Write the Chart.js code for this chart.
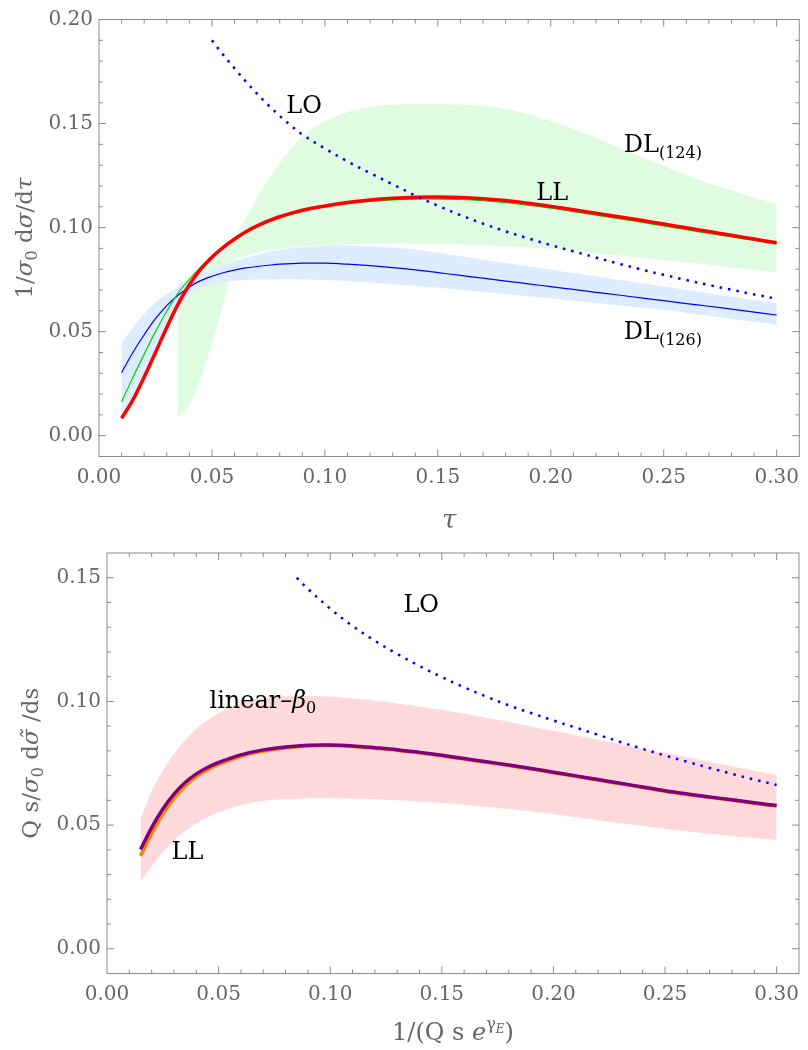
<!DOCTYPE html>
<html>
<head>
<meta charset="utf-8">
<script src="https://cdn.jsdelivr.net/npm/chart.js@4.4.1/dist/chart.umd.min.js"></script>
<style>
  html, body { margin: 0; padding: 0; background: #fff; }
  #wrap { position: relative; width: 808px; height: 1050px; }
  canvas { position: absolute; left: 0; }
  #top { top: 0; }
  #bottom { top: 535px; }
</style>
</head>
<body>
<div id="wrap">
  <canvas id="top" width="808" height="535"></canvas>
  <canvas id="bottom" width="808" height="515"></canvas>
</div>
<script>
// ---------- top panel: 1/sigma0 dsigma/dtau ----------
const tauGrid = [0.01, 0.015, 0.02, 0.025, 0.03, 0.035, 0.04, 0.045, 0.05, 0.055, 0.06, 0.065, 0.07, 0.075, 0.08,
    0.09, 0.10, 0.11, 0.12, 0.13, 0.14, 0.15, 0.16, 0.17, 0.18, 0.19, 0.20, 0.21, 0.22, 0.23, 0.24, 0.25, 0.26, 0.27, 0.28, 0.29, 0.30];
const llTau = [0.0084, 0.0172, 0.0282, 0.040, 0.052, 0.0632, 0.0725, 0.080, 0.0858, 0.0905, 0.0945, 0.098, 0.1008, 0.1032, 0.1052,
    0.1083, 0.1104, 0.1121, 0.1133, 0.1141, 0.1146, 0.1147, 0.1145, 0.1139, 0.113, 0.1117, 0.1102, 0.1086, 0.1069, 0.1052, 0.1035, 0.1017, 0.0999, 0.0981, 0.0963, 0.0945, 0.0927];
const dl124Tau = [0.0163, 0.028, 0.0392, 0.050, 0.0598, 0.0685, 0.0752, 0.081, 0.0862, 0.0905, 0.0942, 0.0976, 0.1004, 0.1028, 0.1048,
    0.1078, 0.1099, 0.1115, 0.1126, 0.1133, 0.1137, 0.1137, 0.1135, 0.1129, 0.112, 0.1107, 0.1093, 0.1077, 0.106, 0.1043, 0.1026, 0.1008, 0.099, 0.0972, 0.0955, 0.0938, 0.092];
const dl126Tau = [0.0303, 0.040, 0.0485, 0.0562, 0.0625, 0.0675, 0.0715, 0.0745, 0.0766, 0.0783, 0.0796, 0.0806, 0.0813, 0.0819, 0.0824,
    0.0829, 0.0829, 0.0824, 0.0817, 0.0808, 0.0797, 0.0784, 0.077, 0.0757, 0.0743, 0.073, 0.0716, 0.0703, 0.0689, 0.0676, 0.0662, 0.0649, 0.0635, 0.0622, 0.0608, 0.0594, 0.058];
const dl126Up = [0.0444, 0.052, 0.0585, 0.064, 0.068, 0.0715, 0.075, 0.0775, 0.0797, 0.0818, 0.0838, 0.0855, 0.087, 0.0882, 0.0893,
    0.0905, 0.0913, 0.0915, 0.091, 0.0903, 0.0895, 0.0879, 0.0863, 0.0846, 0.083, 0.0814, 0.0798, 0.0782, 0.0766, 0.0749, 0.0733, 0.0717, 0.0701, 0.0685, 0.0668, 0.0652, 0.0636];
const dl126Lo = [0.011, 0.019, 0.029, 0.040, 0.051, 0.061, 0.0678, 0.0708, 0.0726, 0.0737, 0.0744, 0.0748, 0.075, 0.0751, 0.0752,
    0.0751, 0.0748, 0.0743, 0.0736, 0.0728, 0.072, 0.0711, 0.0701, 0.069, 0.068, 0.067, 0.066, 0.0649, 0.0638, 0.0627, 0.0616, 0.0605, 0.059, 0.0576, 0.0561, 0.0547, 0.0532];

const tauBand124 = [0.035, 0.04, 0.045, 0.05, 0.055, 0.06, 0.065, 0.07, 0.075, 0.08, 0.085, 0.09,
    0.10, 0.11, 0.12, 0.13, 0.14, 0.15, 0.16, 0.17, 0.18, 0.19, 0.20, 0.21, 0.22, 0.23, 0.24, 0.25, 0.26, 0.27, 0.28, 0.29, 0.30];
const dl124Up = [0.0724, 0.0752, 0.0785, 0.083, 0.0885, 0.0955, 0.1045, 0.1142, 0.1232, 0.131, 0.1378, 0.1437,
    0.151, 0.1555, 0.158, 0.159, 0.1594, 0.1594, 0.1591, 0.1584, 0.1569, 0.1545, 0.1513, 0.1474, 0.1431, 0.1386, 0.1340, 0.1296, 0.1253, 0.1213, 0.1178, 0.1145, 0.1113];
const dl124Lo = [0.0085, 0.015, 0.028, 0.044, 0.063, 0.0840, 0.0866, 0.088, 0.0891, 0.0898, 0.0904, 0.0908,
    0.0915, 0.092, 0.0923, 0.0924, 0.0924, 0.0922, 0.0919, 0.0915, 0.091, 0.0904, 0.0897, 0.0888, 0.0877, 0.0866, 0.0855, 0.0844, 0.0833, 0.0821, 0.0809, 0.0796, 0.0783];

const tauLO = [0.05, 0.055, 0.06, 0.065, 0.07, 0.075, 0.08, 0.085, 0.09,
    0.10, 0.11, 0.12, 0.13, 0.14, 0.15, 0.16, 0.17, 0.18, 0.19, 0.20, 0.21, 0.22, 0.23, 0.24, 0.25, 0.26, 0.27, 0.28, 0.29, 0.30];
const loTau = [0.19, 0.183, 0.1765, 0.1702, 0.1643, 0.1588, 0.1537, 0.149, 0.1447,
    0.138, 0.1318, 0.1262, 0.1208, 0.1154, 0.1105, 0.106, 0.1019, 0.0982, 0.0948, 0.0916, 0.0886, 0.0856, 0.0827, 0.0799, 0.0773, 0.0748, 0.0724, 0.0701, 0.0679, 0.0658];

const tauTicks = [0, 0.05, 0.10, 0.15, 0.20, 0.25, 0.30];
const topYTicks = [0, 0.05, 0.10, 0.15, 0.20];

// ---------- bottom panel: Q s/sigma0 dsigma~/ds ----------
const sGrid = [0.015, 0.02, 0.025, 0.03, 0.035, 0.04, 0.045, 0.05,
    0.06, 0.07, 0.08, 0.09, 0.10, 0.11, 0.12, 0.13, 0.14, 0.15, 0.16, 0.17, 0.18, 0.19, 0.20, 0.21, 0.22, 0.23, 0.24, 0.25, 0.26, 0.27, 0.28, 0.29, 0.30];
const linS = [0.0401, 0.049, 0.0565, 0.0625, 0.0672, 0.0707, 0.0733, 0.0753,
    0.0784, 0.0804, 0.0816, 0.0823, 0.0824, 0.082, 0.0813, 0.0805, 0.0794, 0.0782, 0.0769, 0.0756, 0.0743, 0.0729, 0.0714, 0.0699, 0.0684, 0.0669, 0.0654, 0.0639, 0.0626, 0.0614, 0.0602, 0.059, 0.0579];
const llS = [0.0375, 0.0465, 0.0545, 0.0608, 0.0658, 0.0696, 0.0724, 0.0745,
    0.0778, 0.0799, 0.0812, 0.082, 0.0822, 0.0818, 0.0811, 0.0803, 0.0792, 0.078, 0.0767, 0.0754, 0.0741, 0.0727, 0.0712, 0.0697, 0.0682, 0.0667, 0.0652, 0.0637, 0.0624, 0.0612, 0.06, 0.0588, 0.0577];
const linUp = [0.0526, 0.0635, 0.072, 0.0787, 0.0843, 0.0888, 0.0923, 0.0953,
    0.0995, 0.1014, 0.1021, 0.1022, 0.1019, 0.1012, 0.1003, 0.0992, 0.0979, 0.0965, 0.095, 0.0934, 0.0917, 0.0899, 0.0881, 0.0863, 0.0845, 0.0827, 0.0809, 0.0792, 0.0774, 0.0756, 0.0738, 0.072, 0.0703];
const linLo = [0.027, 0.0335, 0.039, 0.0438, 0.0475, 0.0506, 0.0532, 0.0552,
    0.058, 0.0597, 0.0605, 0.0609, 0.0609, 0.0607, 0.0604, 0.06, 0.0595, 0.0589, 0.0582, 0.0574, 0.0565, 0.0555, 0.0544, 0.0532, 0.052, 0.0508, 0.0496, 0.0485, 0.0474, 0.0465, 0.0456, 0.0448, 0.044];

const sLO = [0.085, 0.09, 0.10, 0.11, 0.12, 0.13, 0.14, 0.15, 0.16, 0.17, 0.18, 0.19, 0.20, 0.21, 0.22, 0.23, 0.24, 0.25, 0.26, 0.27, 0.28, 0.29, 0.30];
const loS = [0.15, 0.1455, 0.1375, 0.1305, 0.1245, 0.1192, 0.1143, 0.1098, 0.1057, 0.1019, 0.0984, 0.0953, 0.0923, 0.0894, 0.0865, 0.0836, 0.0808, 0.0781, 0.0756, 0.0731, 0.0707, 0.0684, 0.0662];

const sTicks = [0, 0.05, 0.10, 0.15, 0.20, 0.25, 0.30];
const botYTicks = [0, 0.05, 0.10, 0.15];

// ---------- styling ----------
const SERIF = "'DejaVu Serif', serif";
const TEXT_GRAY = '#666666';
const FRAME_GRAY = '#8c8c8c';
const fnt = (size, style) => (style ? style + ' ' : '') + size + 'px ' + SERIF;

function curve(xs, ys, color, width, order, extra) {
    return Object.assign({
        data: xs.map((x, i) => ({ x: x, y: ys[i] })),
        borderColor: color,
        borderWidth: width,
        pointRadius: 0,
        tension: 0.35,
        fill: false,
        order: order
    }, extra || {});
}

// upper edge fills down to the lower edge (next dataset)
function band(xs, up, lo, color, order) {
    return [
        curve(xs, up, 'rgba(0,0,0,0)', 0, order, { fill: '+1', backgroundColor: color }),
        curve(xs, lo, 'rgba(0,0,0,0)', 0, order + 1)
    ];
}

// draws a row of text pieces, each with its own font and vertical shift
function drawParts(ctx, parts, x, y, align) {
    let w = 0;
    parts.forEach(p => { ctx.font = p.f; w += ctx.measureText(p.t).width; });
    let cx = align === 'center' ? x - w / 2 : x;
    parts.forEach(p => {
        ctx.font = p.f;
        const pw = ctx.measureText(p.t).width;
        ctx.fillText(p.t, cx, y + (p.dy || 0));
        if (p.tilde) {
            ctx.textAlign = 'center';
            ctx.fillText('\u02DC', cx + pw / 2 + 2, y + (p.dy || 0));
            ctx.textAlign = 'left';
        }
        cx += pw;
    });
}

// Mathematica-like frame with inward ticks on all four sides
const framePlugin = {
    id: 'mmaFrame',
    afterDatasetsDraw(chart) {
        const { ctx, chartArea: a } = chart;
        const sx = chart.scales.x, sy = chart.scales.y;
        ctx.save();
        ctx.strokeStyle = FRAME_GRAY;
        ctx.lineWidth = 1;
        ctx.strokeRect(a.left, a.top, a.right - a.left, a.bottom - a.top);
        ctx.beginPath();
        for (let k = Math.ceil(sx.min * 100 - 1e-6); k <= Math.floor(sx.max * 100 + 1e-6); k++) {
            const px = sx.getPixelForValue(k / 100);
            if (px <= a.left + 1 || px >= a.right - 1) continue;
            const len = k % 5 === 0 ? 7 : 4;
            ctx.moveTo(px, a.bottom); ctx.lineTo(px, a.bottom - len);
            ctx.moveTo(px, a.top); ctx.lineTo(px, a.top + len);
        }
        for (let k = Math.ceil(sy.min * 100 - 1e-6); k <= Math.floor(sy.max * 100 + 1e-6); k++) {
            const py = sy.getPixelForValue(k / 100);
            if (py <= a.top + 1 || py >= a.bottom - 1) continue;
            const len = k % 5 === 0 ? 7 : 4;
            ctx.moveTo(a.left, py); ctx.lineTo(a.left + len, py);
            ctx.moveTo(a.right, py); ctx.lineTo(a.right - len, py);
        }
        ctx.stroke();
        ctx.restore();
    }
};

function textPlugin(id, draw) {
    return {
        id: id,
        afterDraw(chart) {
            const ctx = chart.ctx;
            ctx.save();
            ctx.textAlign = 'left';
            ctx.textBaseline = 'alphabetic';
            draw(chart, ctx);
            ctx.restore();
        }
    };
}

function axisOpts(min, max, ticks, fitSize, horizontal) {
    return {
        type: 'linear',
        min: min,
        max: max,
        grid: { display: false, drawTicks: false },
        border: { display: false },
        afterBuildTicks: s => { s.ticks = ticks.map(v => ({ value: v })); },
        afterFit: s => { if (horizontal) s.height = fitSize; else s.width = fitSize; },
        ticks: {
            color: TEXT_GRAY,
            font: { family: SERIF, size: 20 },
            padding: horizontal ? 9 : 6,
            autoSkip: false,
            maxRotation: 0,
            callback: v => v.toFixed(2)
        }
    };
}

function baseOptions(padding, xOpts, yOpts) {
    return {
        responsive: false,
        animation: false,
        devicePixelRatio: 1,
        layout: { padding: padding },
        plugins: { legend: { display: false }, tooltip: { enabled: false } },
        events: [],
        scales: { x: xOpts, y: yOpts }
    };
}

// ---------- top chart ----------
const topNotes = [
    { x: 0.0829, y: 0.155, parts: [{ t: 'LO' }] },
    { x: 0.1936, y: 0.1132, parts: [{ t: 'LL' }] },
    { x: 0.2323, y: 0.1363, parts: [{ t: 'DL' }, { t: '(124)', sub: true }] },
    { x: 0.2323, y: 0.0464, parts: [{ t: 'DL' }, { t: '(126)', sub: true }] }
];

new Chart(document.getElementById('top'), {
    type: 'line',
    data: {
        datasets: [
            curve(tauLO, loTau, '#0000ff', 2.5, 0, { borderDash: [2.5, 6] }),
            curve(tauGrid, llTau, '#ff0000', 3.5, 1),
            curve(tauGrid, dl124Tau, '#00d400', 1.2, 2),
            curve(tauGrid, dl126Tau, '#0000ff', 1.2, 3),
            ...band(tauGrid, dl126Up, dl126Lo, 'rgb(221,237,255)', 4),
            ...band(tauBand124, dl124Up, dl124Lo, 'rgb(224,252,224)', 6)
        ]
    },
    options: baseOptions({ top: 19.5, right: 2, left: 0, bottom: 0 },
        axisOpts(0, 0.31, tauTicks, 78.5, true),
        axisOpts(-0.01, 0.20, topYTicks, 99, false)),
    plugins: [framePlugin, textPlugin('topText', (chart, ctx) => {
        const a = chart.chartArea, sx = chart.scales.x, sy = chart.scales.y;
        ctx.fillStyle = '#000';
        topNotes.forEach(n => {
            drawParts(ctx, n.parts.map(p => p.sub ? { t: p.t, f: fnt(16), dy: 6 } : { t: p.t, f: fnt(24) }),
                sx.getPixelForValue(n.x), sy.getPixelForValue(n.y), 'left');
        });
        ctx.fillStyle = TEXT_GRAY;
        drawParts(ctx, [{ t: '\u03C4', f: fnt(26, 'italic') }], (a.left + a.right) / 2, 528, 'center');
        ctx.translate(32, (a.top + a.bottom) / 2);
        ctx.rotate(-Math.PI / 2);
        drawParts(ctx, [
            { t: '1/', f: fnt(23) },
            { t: '\u03C3', f: fnt(23, 'italic') },
            { t: '0', f: fnt(16), dy: 5 },
            { t: ' d', f: fnt(23) },
            { t: '\u03C3', f: fnt(23, 'italic') },
            { t: '/d', f: fnt(23) },
            { t: '\u03C4', f: fnt(23, 'italic') }
        ], 0, 0, 'center');
    })]
});

// ---------- bottom chart ----------
const botNotes = [
    { x: 0.1328, y: 0.1361, parts: [{ t: 'LO' }] },
    { x: 0.0459, y: 0.0972, parts: [{ t: 'linear\u2013' }, { t: '\u03B2', it: true }, { t: '0', sub: true }] },
    { x: 0.0289, y: 0.0364, parts: [{ t: 'LL' }] }
];

new Chart(document.getElementById('bottom'), {
    type: 'line',
    data: {
        datasets: [
            curve(sLO, loS, '#0000ff', 2.5, 0, { borderDash: [2.5, 6] }),
            curve(sGrid, linS, 'rgb(128,0,128)', 3.5, 1),
            curve(sGrid, llS, 'rgb(255,128,0)', 3.5, 2),
            ...band(sGrid, linUp, linLo, 'rgb(255,217,219)', 3)
        ]
    },
    options: baseOptions({ top: 7.7, right: 3, left: 0, bottom: 0 },
        axisOpts(0, 0.31, sTicks, 76.5, true),
        axisOpts(-0.01, 0.16, botYTicks, 107, false)),
    plugins: [framePlugin, textPlugin('botText', (chart, ctx) => {
        const a = chart.chartArea, sx = chart.scales.x, sy = chart.scales.y;
        ctx.fillStyle = '#000';
        botNotes.forEach(n => {
            drawParts(ctx, n.parts.map(p => p.sub ? { t: p.t, f: fnt(16), dy: 5 }
                : { t: p.t, f: fnt(24, p.it ? 'italic' : '') }),
                sx.getPixelForValue(n.x), sy.getPixelForValue(n.y), 'left');
        });
        ctx.fillStyle = TEXT_GRAY;
        drawParts(ctx, [
            { t: '1/(Q s ', f: fnt(24) },
            { t: 'e', f: fnt(24, 'italic') },
            { t: '\u03B3', f: fnt(16), dy: -11 },
            { t: 'E', f: fnt(12, 'italic'), dy: -7 },
            { t: ')', f: fnt(24) }
        ], (a.left + a.right) / 2, 505, 'center');
        ctx.translate(38, (a.top + a.bottom) / 2);
        ctx.rotate(-Math.PI / 2);
        drawParts(ctx, [
            { t: 'Q s/', f: fnt(23) },
            { t: '\u03C3', f: fnt(23, 'italic') },
            { t: '0', f: fnt(16), dy: 5 },
            { t: ' d', f: fnt(23) },
            { t: '\u03C3', f: fnt(23, 'italic'), tilde: true },
            { t: ' /ds', f: fnt(23) }
        ], 0, 0, 'center');
    })]
});
</script>
</body>
</html>
